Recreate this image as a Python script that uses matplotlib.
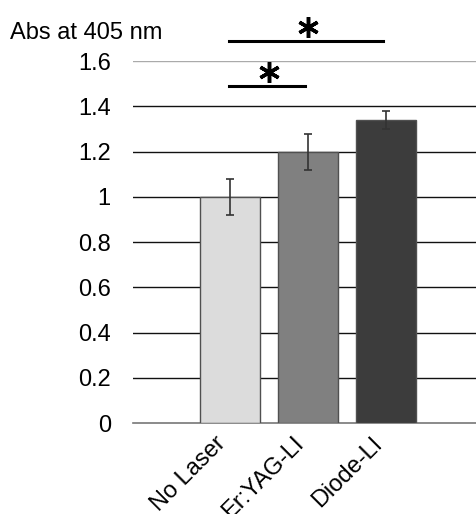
import matplotlib
matplotlib.use("Agg")
import matplotlib.pyplot as plt

plt.rcParams['font.family'] = ['Liberation Sans', 'DejaVu Sans']

groups = ["No Laser", "Er:YAG-LI", "Diode-LI"]
abs_405 = [1.0, 1.2, 1.34]
errs = [0.08, 0.08, 0.04]
colors = ["#dcdcdc", "#808080", "#3c3c3c"]
yticks = [0, 0.2, 0.4, 0.6, 0.8, 1, 1.2, 1.4, 1.6]
ytick_labels = ["0", "0.2", "0.4", "0.6", "0.8", "1", "1.2", "1.4", "1.6"]
# significance brackets: (from group, to group, height)
sig = [(0, 2, 1.69), (0, 1, 1.49)]

fig = plt.figure(figsize=(4.77, 5.14), dpi=100)
ax = fig.add_axes([0.279, 0.177, 0.721, 0.704])

x = range(len(groups))
ax.bar(x, abs_405, width=0.77, color=colors, edgecolor="#505050", linewidth=1.0, zorder=3)
ax.errorbar(x, abs_405, yerr=errs, fmt="none", ecolor="#333333", elinewidth=1.2,
            capsize=3, capthick=1.2, zorder=4)

ax.set_xlim(-1.24, 3.16)
ax.set_ylim(0, 1.6)
ax.set_yticks(yticks)
ax.set_yticklabels(ytick_labels, fontsize=17)
ax.set_xticks(list(x))
ax.set_xticklabels(groups, rotation=45, ha="right", va="top", fontsize=17)
ax.tick_params(length=0, pad=16, axis="y")
ax.tick_params(length=0, pad=7, axis="x")

for yv in yticks[1:]:
    col = "#aaaaaa" if yv == 1.6 else "#111111"
    ax.axhline(yv, color=col, linewidth=1.0, zorder=1)
for s in ["top", "right", "left"]:
    ax.spines[s].set_visible(False)
ax.spines["bottom"].set_color("#777777")
ax.spines["bottom"].set_linewidth(1.2)

for a, b, h in sig:
    ax.plot([a - 0.01, b - 0.04], [h, h], color="black", linewidth=2.2, clip_on=False)
    ax.plot([(a + b) / 2], [h + 0.06], marker=(6, 2, 0), markersize=15,
            markeredgewidth=2.5, color="black", clip_on=False)

fig.text(0.022, 0.935, "Abs at 405 nm", fontsize=17, ha="left", va="center")

fig.savefig("out.png", dpi=100)
